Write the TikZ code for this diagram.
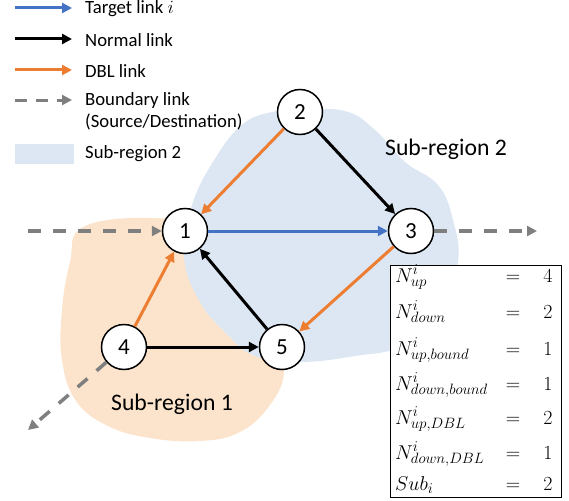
\RequirePackage{fix-cm}
\documentclass[tikz,border=0pt]{standalone}
\usepackage{fontspec}
\setmainfont{Carlito}
\usetikzlibrary{arrows.meta,positioning,calc}
\DeclareMathSizes{20}{20}{15}{12}
\definecolor{targetBlue}{RGB}{68,114,196}
\definecolor{dblOrange}{RGB}{237,125,49}
\definecolor{boundGray}{RGB}{127,127,127}
\definecolor{subOneFill}{RGB}{252,228,204}
\definecolor{subTwoFill}{RGB}{220,231,243}

\begin{document}
\begin{tikzpicture}[x=1pt,y=-1pt,
        nd/.style={draw, circle, line width=1.5pt, fill=white, minimum size=45pt,
                   inner sep=0pt, font=\fontsize{23}{23}\selectfont},
        arr/.style={-{Triangle[length=10pt,width=10pt]}, line width=3pt},
        bnd/.style={arr, boundGray, line width=3.5pt, dash pattern=on 13pt off 12pt},
        lbl/.style={anchor=west, inner sep=0pt, font=\fontsize{18.7}{22}\selectfont},
        reg/.style={inner sep=0pt, font=\fontsize{23.7}{26}\selectfont},
        cell/.style={anchor=base, inner sep=0pt, font=\fontsize{20}{24}\selectfont}
      ]
        \useasboundingbox (0,0) rectangle (569,500);
        % SUB-REGIONS
        \fill[subOneFill] plot[smooth cycle, tension=0.7] coordinates {
          (83,227) (150,218) (190,230) (235,280) (275,335) (284,372) (270,405)
          (240,432) (200,441) (150,438) (108,426) (76,401) (62,360) (62,310) (70,262)};
        \fill[subTwoFill] plot[smooth cycle, tension=0.7] coordinates {
          (300,110) (345,111) (375,130) (405,162) (438,185) (453,220) (458,262)
          (442,310) (405,345) (355,356) (300,362) (255,356) (228,335) (200,302)
          (184,257) (192,205) (216,157) (243,124) (272,112)};
        \node[reg] (sub1) at (172,404) {Sub-region 1};
        \node[reg] (sub2) at (446,149) {Sub-region 2};
        % NODES
        \node[nd] (n1) at (185,231) {1};
        \node[nd] (n2) at (300,112) {2};
        \node[nd] (n3) at (411,231) {3};
        \node[nd] (n4) at (124,347) {4};
        \node[nd] (n5) at (282,347) {5};
        % LINKS
        \draw[arr,targetBlue] (n1)--(n3);
        \draw[arr] (n2)--(n3);
        \draw[arr] (n5)--(n1);
        \draw[arr] (n4)--(n5);
        \draw[arr,dblOrange] (n2)--(n1);
        \draw[arr,dblOrange] (n3)--(n5);
        \draw[arr,dblOrange] (n4)--(n1);
        % boundary links
        \coordinate (inL) at (28,231);
        \coordinate (outR) at (537,231);
        \coordinate (outLL) at (28,430);
        \draw[bnd] (inL)--(n1);
        \draw[bnd] (n3)--(outR);
        \draw[bnd] (n4)--(outLL);
        % LEGEND
        \coordinate (lgA) at (15,8);   \coordinate (lgA') at (72,8);
        \coordinate (lgB) at (15,39);  \coordinate (lgB') at (72,39);
        \coordinate (lgC) at (15,70);  \coordinate (lgC') at (72,70);
        \coordinate (lgD) at (15,100); \coordinate (lgD') at (72,100);
        \draw[arr,targetBlue] (lgA)--(lgA');
        \draw[arr] (lgB)--(lgB');
        \draw[arr,dblOrange] (lgC)--(lgC');
        \draw[bnd,line width=3pt,dash pattern=on 12pt off 9pt] (lgD)--(lgD');
        \node[lbl] (tTarget) at (85,9) {Target link $i$};
        \node[lbl] (tNormal) at (85,40) {Normal link};
        \node[lbl] (tDBL) at (85,71) {DBL link};
        \node[lbl, align=left] (tBound) at (85,111) {Boundary link\\(Source/Destination)};
        \node[fill=subTwoFill, minimum width=59pt, minimum height=20pt, inner sep=0pt,
              anchor=north west] (kSub) at (15,144) {};
        \node[lbl] (tSub) at (85,154) {Sub-region 2};
        % COUNT TABLE
        \node[draw, line width=1pt, fill=white, minimum width=171pt, minimum height=232pt,
              inner sep=0pt, anchor=north west] (tab) at (390,265) {};
        \foreach \k/\yy/\lhs/\rhs in {1/282/{N^{i}_{up}}/4, 2/318/{N^{i}_{down}}/2,
            3/355/{N^{i}_{up,bound}}/1, 4/390/{N^{i}_{down,bound}}/1,
            5/424/{N^{i}_{up,DBL}}/2, 6/459/{N^{i}_{down,DBL}}/1, 7/490/{Sub_{i}}/2}{
          \node[cell, anchor=base west] (lhs\k) at (395,\yy) {$\lhs$};
          \node[cell] (eq\k) at (513,\yy) {$=$};
          \node[cell] (rhs\k) at (548,\yy) {$\rhs$};
        }
      \end{tikzpicture}
\end{document}
